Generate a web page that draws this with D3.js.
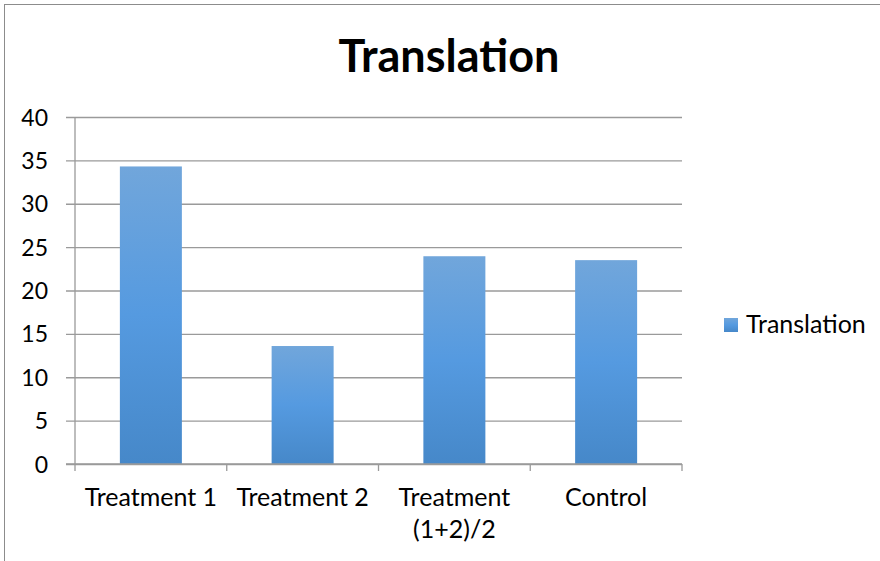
<!DOCTYPE html>
<html>
<head>
<meta charset="utf-8">
<script src="https://cdn.jsdelivr.net/npm/d3@7"></script>
<style>
  html, body { margin: 0; padding: 0; background: #fff; }
  svg { display: block; }
  text { font-family: Lato, "Open Sans", sans-serif; fill: #000; }
</style>
</head>
<body>
<svg id="chart" width="880" height="561"></svg>
<script>
// Bar chart data
const categories = [["Treatment 1"], ["Treatment 2"], ["Treatment", "(1+2)/2"], ["Control"]];
const seriesName = "Translation";
const values = [34.3, 13.6, 23.95, 23.5];
const yTicks = [0, 5, 10, 15, 20, 25, 30, 35, 40];

const svg = d3.select("#chart");
const W = 880, H = 561;
const plot = { left: 75, right: 682, top: 117, bottom: 464 };

// Chart frame
svg.append("rect")
  .attr("x", 4.5).attr("y", 4.5)
  .attr("width", W + 10).attr("height", H + 10)
  .attr("fill", "#fff").attr("stroke", "#8c8c8c").attr("stroke-width", 1);

// Bar gradient
const defs = svg.append("defs");
const grad = defs.append("linearGradient").attr("id", "barFill")
  .attr("x1", 0).attr("y1", 0).attr("x2", 0).attr("y2", 1);
grad.append("stop").attr("offset", "0%").attr("stop-color", "#71a6db");
grad.append("stop").attr("offset", "50%").attr("stop-color", "#559ae0");
grad.append("stop").attr("offset", "100%").attr("stop-color", "#4688c9");

const y = d3.scaleLinear().domain([0, 40]).range([plot.bottom, plot.top]);

// Horizontal gridlines with left tick marks
const yAxis = d3.axisLeft(y).tickValues(yTicks).tickSize(plot.right - plot.left + 9).tickFormat(d => d);
const gy = svg.append("g").attr("transform", `translate(${plot.right},0)`).call(yAxis);
gy.select(".domain").remove();
gy.selectAll(".tick line").attr("stroke", "#9a9a9a").attr("stroke-width", 1.3);
gy.selectAll(".tick text")
  .attr("x", -(plot.right - plot.left) - 27)
  .attr("dy", "0.35em")
  .style("font-size", "23px").style("font-family", "Lato, sans-serif");

// Bars
const xPos = d3.scaleLinear().domain([0, categories.length]).range([plot.left, plot.right]);
const barW = 62;
svg.append("g").selectAll("rect")
  .data(values)
  .join("rect")
  .attr("x", (d, i) => xPos(i + 0.5) - barW / 2)
  .attr("y", d => y(d))
  .attr("width", barW)
  .attr("height", d => y(0) - y(d))
  .attr("fill", "url(#barFill)");

// Vertical axis line
svg.append("line")
  .attr("x1", plot.left).attr("x2", plot.left)
  .attr("y1", plot.top).attr("y2", plot.bottom)
  .attr("stroke", "#9a9a9a").attr("stroke-width", 1.3);

// Category axis
svg.append("line")
  .attr("x1", plot.left - 9).attr("x2", plot.right)
  .attr("y1", plot.bottom).attr("y2", plot.bottom)
  .attr("stroke", "#9a9a9a").attr("stroke-width", 1.3);
svg.append("g").selectAll("line")
  .data(d3.range(categories.length + 1))
  .join("line")
  .attr("x1", d => xPos(d)).attr("x2", d => xPos(d))
  .attr("y1", plot.bottom).attr("y2", plot.bottom + 7)
  .attr("stroke", "#9a9a9a").attr("stroke-width", 1.3);

const labels = svg.append("g").selectAll("text")
  .data(categories)
  .join("text")
  .attr("x", (d, i) => xPos(i + 0.5))
  .attr("y", 506)
  .attr("text-anchor", "middle")
  .style("font-size", "25px");
labels.selectAll("tspan")
  .data(d => d)
  .join("tspan")
  .attr("x", function() { return this.parentNode.getAttribute("x"); })
  .attr("dy", (d, i) => i === 0 ? 0 : 32)
  .text(d => d);

// Title
svg.append("text")
  .attr("x", 449).attr("y", 72)
  .attr("text-anchor", "middle")
  .style("font-size", "45px").style("font-weight", "bold")
  .text(seriesName);

// Legend
svg.append("rect")
  .attr("x", 724).attr("y", 318).attr("width", 14).attr("height", 14)
  .attr("fill", "url(#barFill)");
svg.append("text")
  .attr("x", 746).attr("y", 333)
  .style("font-size", "25px")
  .text(seriesName);
</script>
</body>
</html>
